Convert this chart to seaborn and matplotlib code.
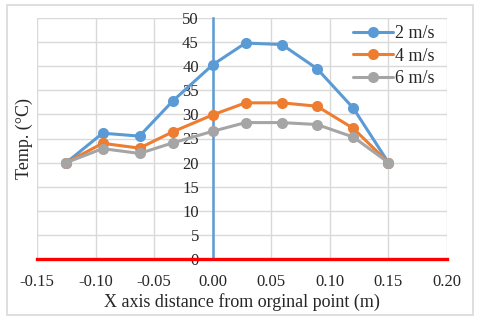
import pandas as pd
import matplotlib.pyplot as plt
import seaborn as sns
from matplotlib.patches import Rectangle

# data
x_pos = [-0.125, -0.094, -0.0625, -0.034, 0.0, 0.028, 0.059, 0.089, 0.12, 0.15]
temp_2 = [20.0, 26.1, 25.5, 32.8, 40.3, 44.8, 44.5, 39.5, 31.3, 20.0]
temp_4 = [20.0, 24.0, 23.0, 26.4, 29.9, 32.4, 32.4, 31.7, 27.1, 20.0]
temp_6 = [20.0, 22.9, 21.9, 24.1, 26.5, 28.3, 28.3, 27.9, 25.3, 20.0]
speeds = ['2 m/s', '4 m/s', '6 m/s']
colors = ['#5B9BD5', '#ED7D31', '#A5A5A5']

df = pd.concat([
    pd.DataFrame({'x': x_pos, 'temp': t, 'speed': s})
    for t, s in zip([temp_2, temp_4, temp_6], speeds)
], ignore_index=True)

sns.set_style("white")
plt.rcParams['font.family'] = ['Liberation Serif', 'DejaVu Serif']

fig = plt.figure(figsize=(4.8, 3.22), dpi=100)
ax = fig.add_axes([37 / 480, 1 - 259 / 322, 410 / 480, 241 / 322])

# chart area border
fig.patches.append(Rectangle((7 / 480, 1 - 315 / 322), 466 / 480, 310 / 322,
                             transform=fig.transFigure, fill=False,
                             edgecolor='#D9D9D9', linewidth=1.2))

sns.lineplot(data=df, x='x', y='temp', hue='speed', palette=colors,
             marker='o', markersize=8, markeredgewidth=0, linewidth=2.2,
             ax=ax, zorder=3)

ax.set_xlim(-0.15, 0.20)
ax.set_ylim(0, 50)
ax.set_xticks([-0.15, -0.10, -0.05, 0.0, 0.05, 0.10, 0.15, 0.20])
ax.set_xticklabels(['-0.15', '-0.10', '-0.05', '0.00', '0.05', '0.10', '0.15', '0.20'])
ax.set_yticks(range(0, 51, 5))
ax.grid(True, color='#D9D9D9', linewidth=1.0)

for s in ['top', 'right']:
    ax.spines[s].set_visible(False)
ax.spines['left'].set_position(('data', 0))
ax.spines['left'].set_color('#5B9BD5')
ax.spines['left'].set_linewidth(1.8)
ax.spines['left'].set_zorder(2)
ax.spines['bottom'].set_color('red')
ax.spines['bottom'].set_linewidth(2.4)

ax.tick_params(axis='y', length=0, pad=10, labelsize=12)
ax.tick_params(axis='x', length=0, pad=11, labelsize=12)

ax.set_xlabel('X axis distance from orginal point (m)', fontsize=13, labelpad=2)
ax.set_ylabel('Temp. (°C)', fontsize=13)
ax.yaxis.set_label_coords(-0.01, 0.5)

handles, labels = ax.get_legend_handles_labels()
ax.legend(handles, labels, loc='upper right', bbox_to_anchor=(0.995, 1.015),
          frameon=False, fontsize=13, handlelength=2.2, handletextpad=0.1,
          labelspacing=0.3, borderaxespad=0.2)

fig.savefig('out.png', dpi=100)
